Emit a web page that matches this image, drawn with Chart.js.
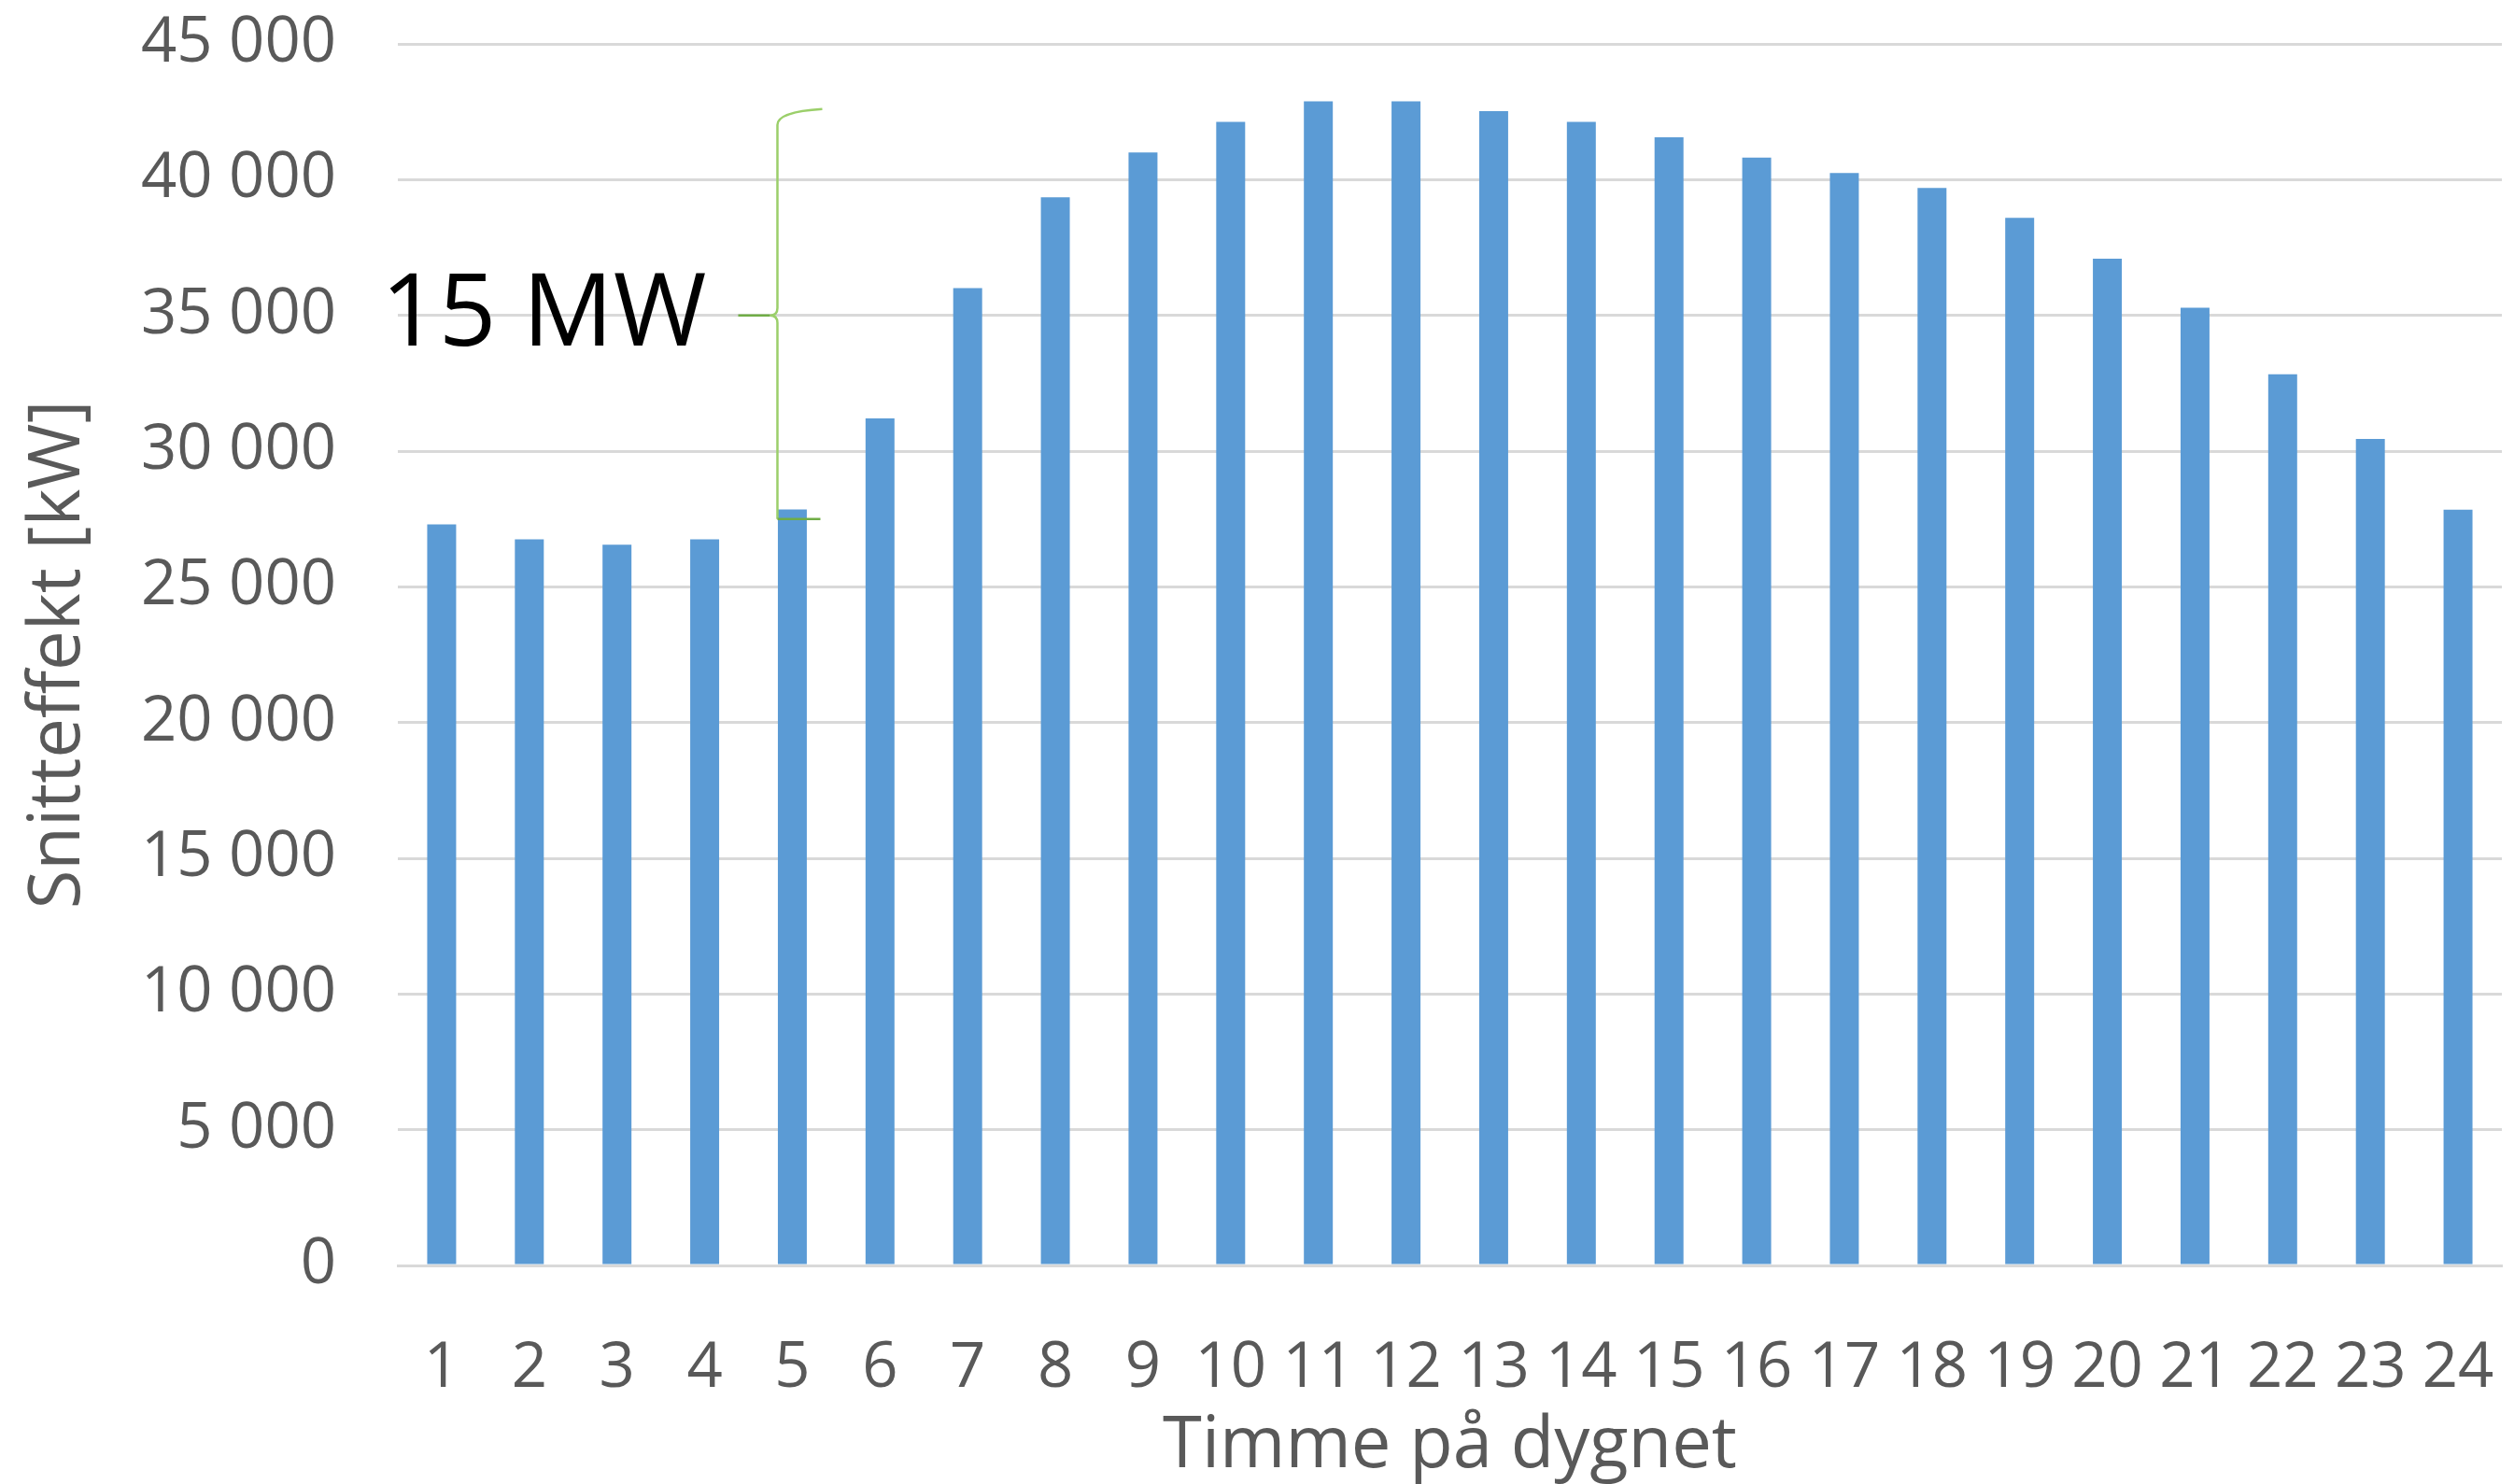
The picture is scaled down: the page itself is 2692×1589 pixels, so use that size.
<!DOCTYPE html>
<html>
<head>
<meta charset="utf-8">
<script src="https://cdn.jsdelivr.net/npm/chart.js@4"></script>
<style>
  html, body { margin: 0; padding: 0; background: #ffffff; }
  #wrap { width: 2692px; height: 1589px; }
</style>
</head>
<body>
<div id="wrap"><canvas id="effektGraph" width="2692" height="1589"></canvas></div>
<script>
// Data
const timmar = ['1','2','3','4','5','6','7','8','9','10','11','12','13','14','15','16','17','18','19','20','21','22','23','24'];
const snitteffekt = [27300, 26750, 26550, 26750, 27850, 31200, 36000, 39350, 41000, 42130, 42880, 42880,
                     42520, 42130, 41560, 40810, 40240, 39690, 38590, 37090, 35280, 32830, 30450, 27840];
const yTicks = [0, 5000, 10000, 15000, 20000, 25000, 30000, 35000, 40000, 45000];

// Annotering (klammer)
const klammerText = '15 MW';
const klammerVarden = [27500, 35000, 42500]; // botten, mitt, topp
const klammerTimme = 4; // index for timme 5

const GRID = '#d9d9d9';
const TEXT = '#595959';
const FONT = "'Open Sans', 'Liberation Sans', sans-serif";

function fmt(v) {
    return String(v).replace(/\B(?=(\d{3})+(?!\d))/g, ' ');
}

// Plugin for klammer + text
const klammerPlugin = {
    id: 'klammer',
    afterDatasetsDraw(chart) {
        const ctx = chart.ctx;
        const xs = chart.scales.x, ys = chart.scales.y;
        const cat = xs.getPixelForValue(1) - xs.getPixelForValue(0);
        const x = xs.getPixelForValue(klammerTimme) - 0.17 * cat;
        const yBot = ys.getPixelForValue(klammerVarden[0]);
        const yMid = ys.getPixelForValue(klammerVarden[1]);
        const yTop = ys.getPixelForValue(klammerVarden[2]);
        const r = 14;

        ctx.save();
        ctx.lineWidth = 2.5;
        ctx.strokeStyle = '#9bcf6a';
        ctx.beginPath();
        ctx.moveTo(x + 48, yTop - 3);
        ctx.quadraticCurveTo(x, yTop, x, yTop + r);
        ctx.lineTo(x, yMid - 8);
        ctx.quadraticCurveTo(x, yMid, x - 8, yMid);
        ctx.moveTo(x, yMid + 8);
        ctx.quadraticCurveTo(x, yMid, x - 8, yMid);
        ctx.moveTo(x, yMid + 8);
        ctx.lineTo(x, yBot);
        ctx.stroke();

        ctx.strokeStyle = '#70ad47';
        ctx.beginPath();
        ctx.moveTo(x - 8, yMid);
        ctx.lineTo(x - 42, yMid);
        ctx.moveTo(x, yBot);
        ctx.lineTo(x + 46, yBot);
        ctx.stroke();

        ctx.fillStyle = '#000000';
        ctx.font = "108px " + FONT;
        ctx.textAlign = 'right';
        ctx.textBaseline = 'alphabetic';
        ctx.fillText(klammerText, x - 76, yMid + 32);
        ctx.restore();
    }
};

const ctx = document.getElementById('effektGraph').getContext('2d');

const effektGraph = new Chart(ctx, {
    type: 'bar',
    data: {
        labels: timmar,
        datasets: [{
            label: 'Snitteffekt',
            data: snitteffekt,
            backgroundColor: '#5b9bd5',
            borderWidth: 0,
            categoryPercentage: 1,
            barPercentage: 0.33
        }]
    },
    options: {
        responsive: false,
        animation: false,
        devicePixelRatio: 1,
        layout: { padding: { left: 0, right: 13, top: 47, bottom: 0 } },
        plugins: {
            legend: { display: false },
            tooltip: { enabled: false }
        },
        scales: {
            x: {
                grid: { display: false, drawTicks: false },
                border: { display: true, color: GRID, width: 3 },
                ticks: {
                    color: TEXT,
                    font: { family: FONT, size: 67 },
                    padding: 71,
                    autoSkip: false,
                    maxRotation: 0,
                    minRotation: 0
                },
                title: {
                    display: true,
                    text: 'Timme på dygnet',
                    color: TEXT,
                    font: { family: FONT, size: 76, lineHeight: 1 },
                    padding: { top: 0, bottom: 2 }
                },
                afterFit(scale) {
                    scale.height = 234;
                    scale.paddingLeft = 0;
                    scale.paddingRight = 0;
                }
            },
            y: {
                min: 0,
                max: 45000,
                afterBuildTicks(scale) { scale.ticks = yTicks.map(v => ({ value: v })); },
                grid: { color: GRID, lineWidth: 3, drawTicks: false },
                border: { display: false },
                ticks: {
                    color: TEXT,
                    font: { family: FONT, size: 67 },
                    padding: 66,
                    callback: v => fmt(v)
                },
                title: {
                    display: true,
                    text: 'Snitteffekt [kW]',
                    color: TEXT,
                    font: { family: FONT, size: 76, lineHeight: 1 },
                    padding: { top: 25, bottom: 0 }
                },
                afterFit(scale) {
                    scale.width = 426;
                    scale.paddingTop = 0;
                    scale.paddingBottom = 0;
                }
            }
        }
    },
    plugins: [klammerPlugin]
});
</script>
</body>
</html>
